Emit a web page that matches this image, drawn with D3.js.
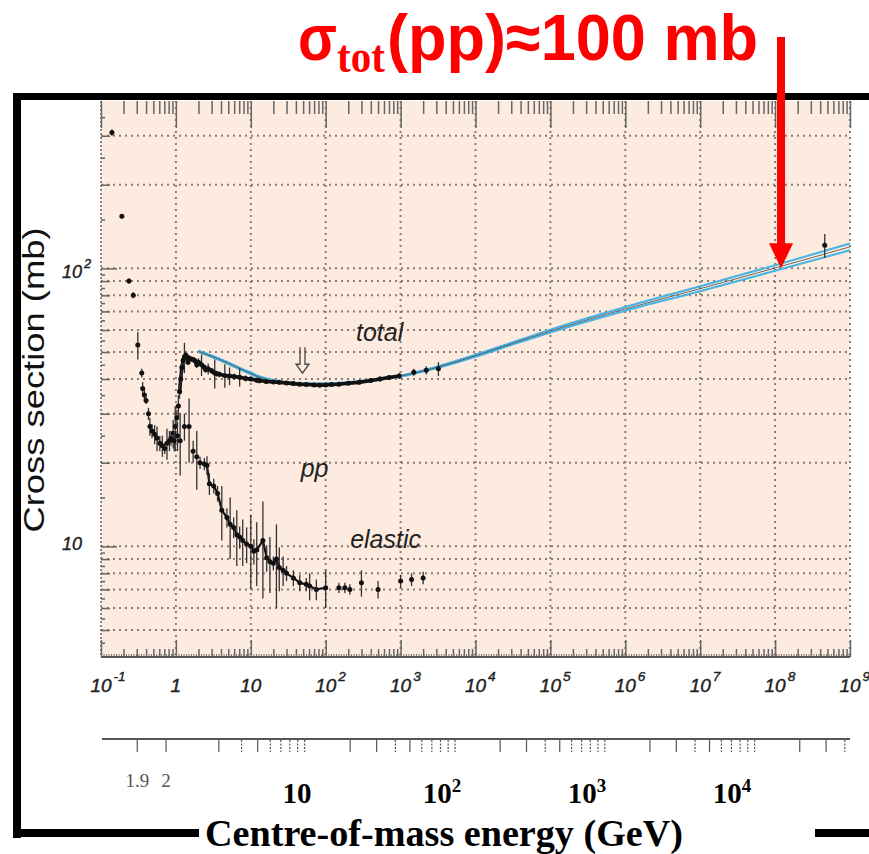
<!DOCTYPE html>
<html>
<head>
<meta charset="UTF-8">
<title>pp cross section</title>
<script src="https://cdn.jsdelivr.net/npm/d3@7"></script>
<style>
html, body { margin:0; padding:0; background:#fff; }
svg { display:block; }
.lab { font-family: "Liberation Sans", Arial, sans-serif; font-style: italic; fill:#222; }
</style>
</head>
<body>
<script>
// lab momentum (GeV/c), sigma (mb), error (mb)
const totalPoints = [[0.14,308,8],[0.19,154,3],[0.236,90,2],[0.27,80,2],[0.31,53,6],[0.35,42,1.5],[0.36,37,2],[0.38,35,1.5],
  [0.40,33.5,1],[0.43,30,1.5],[0.45,27,2],[0.48,26,1.5],[0.52,25.3,2],[0.56,24.5,2.5],[0.61,23.5,1.5],[0.66,23,2],
  [0.71,22.5,1],[0.76,23.5,3],[0.82,24,2],[0.86,24.5,1.5],[0.92,25.5,3],[0.98,27,5],[1.03,29,2],[1.08,32,3],
  [1.12,36,2],[1.16,40,2],[1.2,44,3],[1.25,46.7,2],[1.3,48,6],[1.35,48.7,1.5],[1.42,48,1.5],[1.45,46,1],[1.5,47.5,1],
  [1.6,47.2,1],[1.7,47,1],[1.8,46.5,1],[1.9,45,1],[2.0,46,1.5],[2.2,45,4],[2.4,44.1,1],[2.5,43.2,1],[2.7,43.5,2],
  [3.0,42.8,1],[3.3,42,5],[3.5,41.8,1],[3.8,41.6,1],[4.5,41.2,4],[5.2,41,3],[6.0,40.8,1],[7.1,40.6,3],[8.5,40.2,1],
  [10,40,0.8],[12,39.6,0.8],[13,39.5,1],[16,39.2,0.8],[20,39,0.6],[24,38.9,0.6],[30,38.7,0.6],[37,38.5,0.5],
  [45,38.3,0.5],[55,38.2,0.5],[70,38.1,0.5],[83,38,0.5],[100,38.1,0.6],[120,38.2,0.6],[150,38.3,0.6],[200,38.6,0.6],
  [280,38.9,0.6],[400,39.5,0.8],[530,40,0.8],[700,40.5,0.8],[960,41,1],[1500,42.3,1.2],[2200,43,1.5],[3200,43.5,2.5],
  [4.6e8,121,12]];

const elasticPoints = [[0.95,24,2],[1.05,25,3],[1.14,24,6],[1.3,27,3],[1.5,27,7],[1.7,22,2],[1.9,21,5],[2.1,20,1],
  [2.4,19.8,1],[2.6,19.6,1.5],[2.8,16.8,1.5],[3.2,16.5,1],[3.6,15.5,1],[4.1,13.5,3],[4.8,12.7,1],[5.3,12,3],
  [5.9,11.7,1],[6.5,11,2.5],[7.1,10.8,1],[7.8,10.5,2],[8.8,10.2,1.5],[10,10,3],[11,9.6,1],[12,9.7,2.5],[14.5,10.5,4],
  [16.3,9.1,1],[18,8.8,2],[20,8.7,0.5],[22,9,3],[24,8.4,1.5],[27,8.2,1],[30,8.0,0.5],[37,7.7,0.5],[45,7.4,0.5],
  [55,7.3,0.4],[61,7.2,0.8],[75,7.0,0.6],[100,7.1,1.1],[150,7.1,0.3],[180,7.1,0.3],[210,7.0,0.3],[300,7.4,0.8],
  [500,7.0,0.5],[1000,7.5,0.4],[1400,7.6,0.4],[2000,7.7,0.4]];

// fit band
const fitP    = [2, 3, 5, 8, 15, 30, 60, 100, 200, 500, 1e3, 3e3, 1e4, 3e4, 1e5, 1e6, 1e7, 1e8, 1e9];
const fitMid  = [50.3, 48.3, 45.6, 43.0, 40.1, 38.8, 38.4, 38.4, 38.8, 39.9, 41.0, 44.0, 48.5, 53.5, 59.5, 71.5, 84.5, 100.3, 119.5];
const fitHigh = [50.6, 48.6, 45.9, 43.3, 40.4, 39.0, 38.6, 38.6, 39.0, 40.1, 41.2, 44.3, 48.9, 54.0, 60.2, 72.6, 86.2, 102.6, 122.8];
const fitLow  = [50.0, 48.0, 45.3, 42.7, 39.8, 38.6, 38.2, 38.2, 38.6, 39.7, 40.8, 43.7, 48.1, 53.0, 58.8, 70.4, 82.8, 98.0, 116.2];

const xDecades = [-1, 0, 1, 2, 3, 4, 5, 6, 7, 8, 9];
const yGrid = [5, 6, 7, 8, 9, 10, 20, 30, 40, 50, 60, 70, 80, 90, 100, 200, 300];
const yLabels = [{v: 100, base: '10', exp: '2'}, {v: 10, base: '10', exp: ''}];
const cmsTicks = [1.9, 2, 3, 4, 5, 6, 7, 8, 9, 10, 20, 30, 40, 50, 60, 70, 80, 90, 100, 200, 300, 400, 500, 600, 700, 800, 900,
  1000, 2000, 3000, 4000, 5000, 6000, 7000, 8000, 9000, 1e4, 2e4, 3e4, 4e4];
const cmsSmallLabels = [{v: 1.9, t: '1.9'}, {v: 2, t: '2'}];
const cmsLabels = [{v: 10, exp: ''}, {v: 100, exp: '2'}, {v: 1000, exp: '3'}, {v: 1e4, exp: '4'}];
const annotations = [{t: 'total', p: 525, s: 55}, {t: 'pp', p: 71, s: 17.8}, {t: 'elastic', p: 630, s: 9.83}];
const dipMark = {p: 49, s: 38.3};
const arrowTarget = {p: 1.2e8, s: 100};

const W = 869, H = 854;
const svg = d3.select('body').append('svg').attr('width', W).attr('height', H);

const x = d3.scaleLog().domain([0.1, 1e9]).range([101, 850]);
const y = d3.scaleLog().domain([4, 400]).range([657, 101]);
const [x0, x1] = x.range(), [y0, y1] = [y.range()[1], y.range()[0]];

svg.append('rect').attr('x', x0).attr('y', y0).attr('width', x1 - x0).attr('height', y1 - y0).attr('fill', '#fdebe0');

// grid
const grid = svg.append('g').attr('stroke', '#857d78').attr('stroke-width', 2).attr('stroke-dasharray', '2,4');
grid.selectAll('.vg').data(xDecades.slice(1, -1)).enter().append('line')
  .attr('x1', d => x(10 ** d)).attr('x2', d => x(10 ** d)).attr('y1', y0).attr('y2', y1);
grid.selectAll('.hg').data(yGrid).enter().append('line')
  .attr('x1', x0).attr('x2', x1).attr('y1', d => y(d)).attr('y2', d => y(d));
grid.append('line').attr('x1', x1).attr('x2', x1).attr('y1', y0).attr('y2', y1);

// axes
const majors = xDecades.map(d => 10 ** d);
const minors = [];
xDecades.slice(0, -1).forEach(d => { for (let m = 2; m <= 9; m++) minors.push(m * 10 ** d); });
const styleAxis = g => { g.select('.domain').remove(); g.selectAll('line').attr('stroke', '#666').attr('stroke-width', 1.5); };
svg.append('g').attr('transform', `translate(0,${y0})`).call(d3.axisTop(x).tickValues(majors).tickSize(-27).tickFormat('')).call(styleAxis);
svg.append('g').attr('transform', `translate(0,${y0})`).call(d3.axisTop(x).tickValues(minors).tickSize(-13).tickFormat('')).call(styleAxis);
svg.append('g').attr('transform', `translate(0,${y1})`).call(d3.axisBottom(x).tickValues(majors).tickSize(-17).tickFormat('')).call(styleAxis);
svg.append('g').attr('transform', `translate(0,${y1})`).call(d3.axisBottom(x).tickValues(minors).tickSize(-8).tickFormat('')).call(styleAxis);
svg.append('line').attr('x1', x0).attr('x2', x1).attr('y1', y1).attr('y2', y1).attr('stroke', '#555').attr('stroke-width', 2);
svg.append('line').attr('x1', x0).attr('x2', x1).attr('y1', y1 - 2).attr('y2', y1 - 2).attr('stroke', '#777').attr('stroke-width', 2).attr('stroke-dasharray', '1,1.5');

const yMinor = [4.5, 5.5, 6.5, 7.5, 8.5, 9.5, 15, 25, 35, 45, 55, 65, 75, 85, 95, 150, 250, 350];
svg.append('g').attr('transform', `translate(${x0},0)`).call(d3.axisLeft(y).tickValues([10, 100]).tickSize(-16).tickFormat('')).call(styleAxis);
svg.append('g').attr('transform', `translate(${x0},0)`).call(d3.axisLeft(y).tickValues(yGrid.filter(v => v !== 10 && v !== 100)).tickSize(-9).tickFormat('')).call(styleAxis);
svg.append('g').attr('transform', `translate(${x0},0)`).call(d3.axisLeft(y).tickValues(yMinor).tickSize(-4).tickFormat('')).call(styleAxis);
svg.append('line').attr('x1', x0).attr('x2', x0).attr('y1', y0).attr('y2', y1).attr('stroke', '#666').attr('stroke-width', 1.5).attr('stroke-dasharray', '2,2');

// power-of-ten label, base centred on xPos
function powLabel(g, xPos, yPos, base, exp, size, cls, anchor) {
  const t = g.append('text').attr('class', cls).attr('y', yPos).style('font-size', size + 'px').text(base);
  const w = t.node().getComputedTextLength();
  const left = anchor === 'end' ? xPos - w : xPos - w / 2;
  t.attr('x', left);
  if (exp) g.append('text').attr('class', cls).attr('x', left + w + 2).attr('y', yPos - size * 0.6)
    .style('font-size', (size * 0.72) + 'px').text(exp);
}
const labG = svg.append('g').attr('stroke', '#222').attr('stroke-width', 0.4);
xDecades.forEach(d => {
  if (d === 0) labG.append('text').attr('class', 'lab').attr('x', x(1)).attr('y', 692).attr('text-anchor', 'middle').style('font-size', '19px').text('1');
  else powLabel(labG, x(10 ** d), 692, '10', d === 1 ? '' : String(d), 19, 'lab', 'middle');
});
yLabels.forEach(l => powLabel(labG, 82, y(l.v) + (l.exp ? 10 : 4), l.base, l.exp, 18, 'lab', 'end'));

svg.append('text').attr('transform', `translate(44,380) rotate(-90)`).attr('text-anchor', 'middle')
  .attr('textLength', 305).attr('lengthAdjust', 'spacingAndGlyphs')
  .style('font-family', '"Liberation Sans", Arial, sans-serif').style('font-size', '30px').attr('fill', '#111')
  .text('Cross section (mb)');

// fit band
const line = d3.line().x(d => x(d[0])).y(d => y(d[1])).curve(d3.curveMonotoneX);
const fitG = svg.append('g').attr('fill', 'none');
fitG.append('path').attr('d', line(fitP.map((p, i) => [p, fitHigh[i]]))).attr('stroke', '#45b3e3').attr('stroke-width', 2);
fitG.append('path').attr('d', line(fitP.map((p, i) => [p, fitLow[i]]))).attr('stroke', '#45b3e3').attr('stroke-width', 2);
fitG.append('path').attr('d', line(fitP.map((p, i) => [p, fitMid[i]]))).attr('stroke', '#555').attr('stroke-width', 0.9);

// data
function drawData(pts, band, lw) {
  const g = svg.append('g');
  g.append('path').attr('d', d3.line().x(d => x(d[0])).y(d => y(d[1]))(pts.filter(band)))
    .attr('fill', 'none').attr('stroke', '#111').attr('stroke-width', lw);
  g.selectAll('.eb').data(pts).enter().append('line')
    .attr('x1', d => x(d[0])).attr('x2', d => x(d[0]))
    .attr('y1', d => y(d[1] + d[2])).attr('y2', d => y(Math.max(d[1] - d[2], 4.01)))
    .attr('stroke', '#333').attr('stroke-width', 1.3);
  g.selectAll('.pt').data(pts).enter().append('circle')
    .attr('cx', d => x(d[0])).attr('cy', d => y(d[1])).attr('r', 2.5).attr('fill', '#111');
}
drawData(totalPoints, d => d[0] > 1.1 && d[0] < 1000, 3.6);
drawData(elasticPoints, d => d[0] > 2 && d[0] < 120, 2.2);

annotations.forEach(a => svg.append('text').attr('class', 'lab').attr('x', x(a.p)).attr('y', y(a.s))
  .attr('text-anchor', 'middle').style('font-size', '25px').attr('fill', '#333').text(a.t));

// open double arrow above the dip
const dx = x(dipMark.p), dTip = y(dipMark.s) - 11, dTop = dTip - 26;
svg.append('path').attr('fill', 'none').attr('stroke', '#444').attr('stroke-width', 1.3)
  .attr('d', `M${dx - 2.5},${dTop}V${dTip - 9}H${dx - 6.5}L${dx},${dTip}L${dx + 6.5},${dTip - 9}H${dx + 2.5}V${dTop}`);

// secondary centre-of-mass axis
const mp = 0.938;
const cmsToPlab = rs => { const E = (rs * rs - 2 * mp * mp) / (2 * mp); return Math.sqrt(E * E - mp * mp); };
const axY = 739;
svg.append('line').attr('x1', x0 + 1).attr('x2', x1).attr('y1', axY).attr('y2', axY).attr('stroke', '#555').attr('stroke-width', 2);
const solid = v => [2, 3, 5].includes(Math.round(v / 10 ** Math.floor(Math.log10(v) + 1e-9)));
svg.append('g').selectAll('line').data(cmsTicks.filter(v => x(cmsToPlab(v)) <= x1)).enter().append('line')
  .attr('x1', d => x(cmsToPlab(d))).attr('x2', d => x(cmsToPlab(d)))
  .attr('y1', axY + 1).attr('y2', axY + 13)
  .attr('stroke', '#555').attr('stroke-width', 1.2)
  .attr('stroke-dasharray', d => solid(d) ? null : '2,1.5');
svg.append('g').selectAll('text').data(cmsSmallLabels).enter().append('text')
  .attr('x', d => x(cmsToPlab(d.v))).attr('y', 787).attr('text-anchor', 'middle')
  .style('font-family', '"Liberation Serif", "Times New Roman", serif').style('font-size', '19px').attr('fill', '#555')
  .text(d => d.t);

const cmsLab = d3.scaleLog().domain([10, 1e4]).range([297, 732]);
cmsLabels.forEach(l => {
  const t = svg.append('text').attr('x', cmsLab(l.v)).attr('y', 803).attr('text-anchor', 'middle')
    .style('font-family', '"Liberation Serif", "Times New Roman", serif').style('font-weight', 'bold')
    .style('font-size', '29px').attr('fill', '#000');
  t.append('tspan').text('10');
  if (l.exp) t.append('tspan').attr('dy', -11).style('font-size', '19px').text(l.exp);
});

svg.append('text').attr('x', 444).attr('y', 846).attr('text-anchor', 'middle')
  .attr('textLength', 478).attr('lengthAdjust', 'spacingAndGlyphs')
  .style('font-family', '"Liberation Serif", "Times New Roman", serif').style('font-weight', 'bold')
  .style('font-size', '37px').attr('fill', '#000').text('Centre-of-mass energy (GeV)');

// black frame
const frame = svg.append('g').attr('fill', '#000');
frame.append('rect').attr('x', 13).attr('y', 93).attr('width', W - 13).attr('height', 7);
frame.append('rect').attr('x', 13).attr('y', 93).attr('width', 8).attr('height', 745);
frame.append('rect').attr('x', 13).attr('y', 829).attr('width', 186).attr('height', 8);
frame.append('rect').attr('x', 815).attr('y', 829).attr('width', W - 815).attr('height', 8);

// red title and arrow
const title = svg.append('text').attr('transform', 'translate(298,60) scale(1,1.15)').attr('fill', '#f00')
  .style('font-family', '"Liberation Sans", Arial, sans-serif').style('font-weight', 'bold').style('font-size', '57px');
title.append('tspan').attr('x', 0).text('σ');
title.append('tspan').attr('dy', 10.5).style('font-family', '"Liberation Serif", "Times New Roman", serif')
  .style('font-size', '41px').text('tot');
title.append('tspan').attr('x', 89).attr('dy', -10.5).attr('textLength', 371).attr('lengthAdjust', 'spacingAndGlyphs')
  .text('(pp)≈100 mb');

const ax = x(arrowTarget.p), ay = y(arrowTarget.s);
svg.append('line').attr('x1', ax).attr('x2', ax).attr('y1', 37).attr('y2', ay - 22)
  .attr('stroke', '#f00').attr('stroke-width', 8);
svg.append('path').attr('fill', '#f00').attr('d', `M${ax - 12},${ay - 25}L${ax + 12},${ay - 25}L${ax},${ay}Z`);
</script>
</body>
</html>
